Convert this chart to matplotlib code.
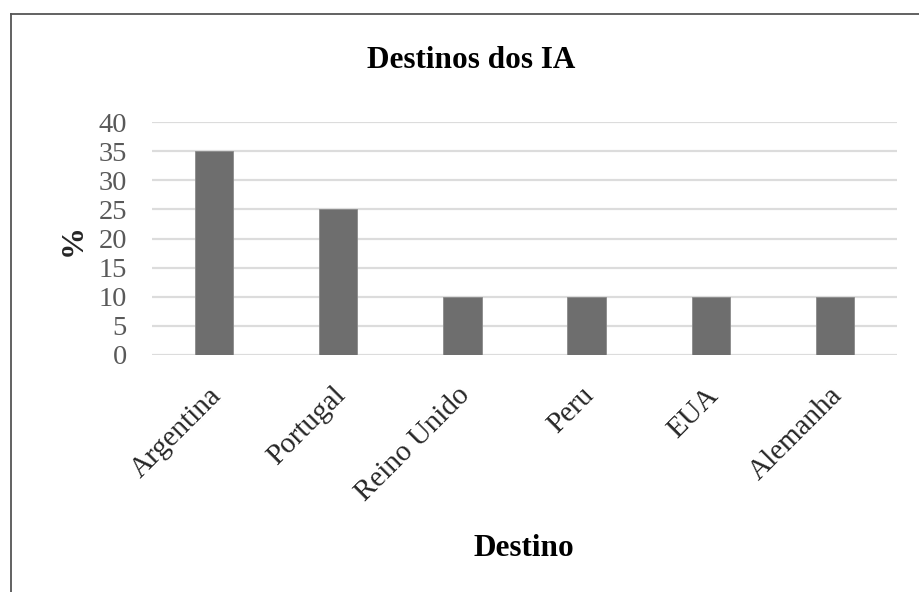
import matplotlib
matplotlib.use("Agg")
import matplotlib.pyplot as plt
import matplotlib.transforms as mtransforms
from matplotlib.lines import Line2D

# Destinos e percentagens
destinos = ["Argentina", "Portugal", "Reino Unido", "Peru", "EUA", "Alemanha"]
percentagens = [35, 25, 10, 10, 10, 10]
y_ticks = [0, 5, 10, 15, 20, 25, 30, 35, 40]

plt.rcParams["font.family"] = ["Liberation Serif", "DejaVu Serif"]

W, H = 920, 592
fig = plt.figure(figsize=(W / 100, H / 100), dpi=100)
fig.patch.set_facecolor("white")

ax = fig.add_axes([152 / W, 1 - 355 / H, (897 - 152) / W, (355 - 122) / H])
x = list(range(len(destinos)))
ax.bar(x, percentagens, width=0.31, color="#6e6e6e", edgecolor="#8a8a8a",
       linewidth=0.6, zorder=3)

ax.set_xlim(-0.5, len(destinos) - 0.5)
ax.set_ylim(0, 40)
ax.set_yticks(y_ticks)
ax.yaxis.grid(True, color="#dcdcdc", linewidth=1.6, zorder=0)
ax.set_axisbelow(True)
for s in ax.spines.values():
    s.set_visible(False)

ax.tick_params(axis="y", length=0, pad=18, labelsize=20.5, labelcolor="#595959")
ax.tick_params(axis="x", length=0, pad=16)
ax.set_xticks(x)
ax.set_xticklabels(destinos, rotation=45, ha="right", va="top",
                   rotation_mode="anchor", fontsize=21, color="#262626")

# desloca um pouco os rótulos rodados para a esquerda e para baixo
shift = mtransforms.ScaledTranslation(-6 / 100, -5 / 100, fig.dpi_scale_trans)
for lbl in ax.get_xticklabels():
    lbl.set_transform(lbl.get_transform() + shift)

fig.text(73 / W, 1 - 240 / H, "%", rotation=90, ha="center", va="center",
         fontsize=23, fontweight="bold", color="#262626")
fig.text(471 / W, 1 - 60 / H, "Destinos dos IA", ha="center", va="center",
         fontsize=22.5, fontweight="bold", color="black")
fig.text(524 / W, 1 - 548 / H, "Destino", ha="center", va="center",
         fontsize=22.5, fontweight="bold", color="black")

# moldura do gráfico (apenas esquerda e topo visíveis)
fig.add_artist(Line2D([11 / W, 11 / W], [0, 1 - 14 / H], transform=fig.transFigure,
                      color="#555555", linewidth=1.3))
fig.add_artist(Line2D([11 / W, 1], [1 - 14 / H, 1 - 14 / H], transform=fig.transFigure,
                      color="#555555", linewidth=1.3))

fig.savefig("out.png", dpi=100)
plt.close(fig)
